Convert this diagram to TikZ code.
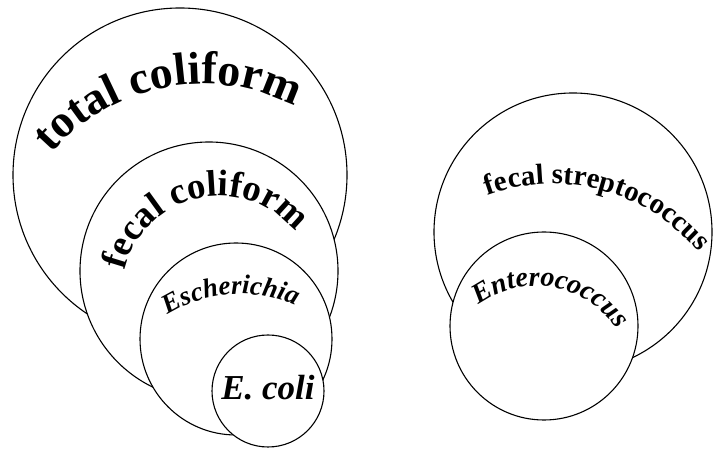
\documentclass[tikz,border=0pt]{standalone}
\usepackage{fontspec}
\setmainfont{Liberation Serif}
\usetikzlibrary{decorations.text}

% label fonts
\newcommand{\bigfont}{\fontsize{46}{46}\selectfont\bfseries}
\newcommand{\midfont}{\fontsize{37}{37}\selectfont\bfseries}
\newcommand{\genusfont}{\fontsize{27}{27}\selectfont\bfseries\itshape}
\newcommand{\speciesfont}{\fontsize{35}{35}\selectfont\bfseries\itshape}
\newcommand{\strepfont}{\fontsize{29}{29}\selectfont\bfseries}
\newcommand{\enterofont}{\fontsize{28}{28}\selectfont\bfseries\itshape}

\begin{document}
\begin{tikzpicture}[x=1pt, y=1pt,
  ring/.style={circle, draw, fill=white, line width=1.1pt, inner sep=0pt},
  arclabel/.style={decorate, decoration={text along path, text align=center, text={#1}}}]
  \useasboundingbox (0,0) rectangle (714,449);

  % coliform group
  \node[ring, minimum size=334pt] (total) at (180,274) {};
  \coordinate (totalarc) at (203,165);
  \path[arclabel={|\bigfont|total coliform}] ([shift={(145:200pt)}]totalarc) arc (145:57:200pt);

  \node[ring, minimum size=258pt] (fecal) at (209,178) {};
  \coordinate (fecalarc) at (219,156);
  \path[arclabel={|\midfont|fecal coliform}] ([shift={(175:97pt)}]fecalarc) arc (175:30:97pt);

  \node[ring, minimum size=192pt] (esch) at (236,110) {};
  \coordinate (escharc) at (240,20);
  \path[arclabel={|\genusfont|Escherichia}] ([shift={(132:135pt)}]escharc) arc (132:56:135pt);

  \node[ring, minimum size=112pt] (ecoli) at (268,58) {};
  \node[anchor=base, font=\speciesfont] (ecolilabel) at (268,49) {E. coli};

  % streptococcus group
  \node[ring, minimum size=278pt] (strep) at (573,217) {};
  \coordinate (streparc) at (553,75);
  \path[arclabel={|\strepfont|fecal streptococcus}] ([shift={(115:190pt)}]streparc) arc (115:35:190pt);

  \node[ring, minimum size=188pt] (entero) at (544,123) {};
  \coordinate (enteroarc) at (536,66);
  \path[arclabel={|\enterofont|Enterococcus}] ([shift={(140:97pt)}]enteroarc) arc (140:20:97pt);
\end{tikzpicture}
\end{document}
